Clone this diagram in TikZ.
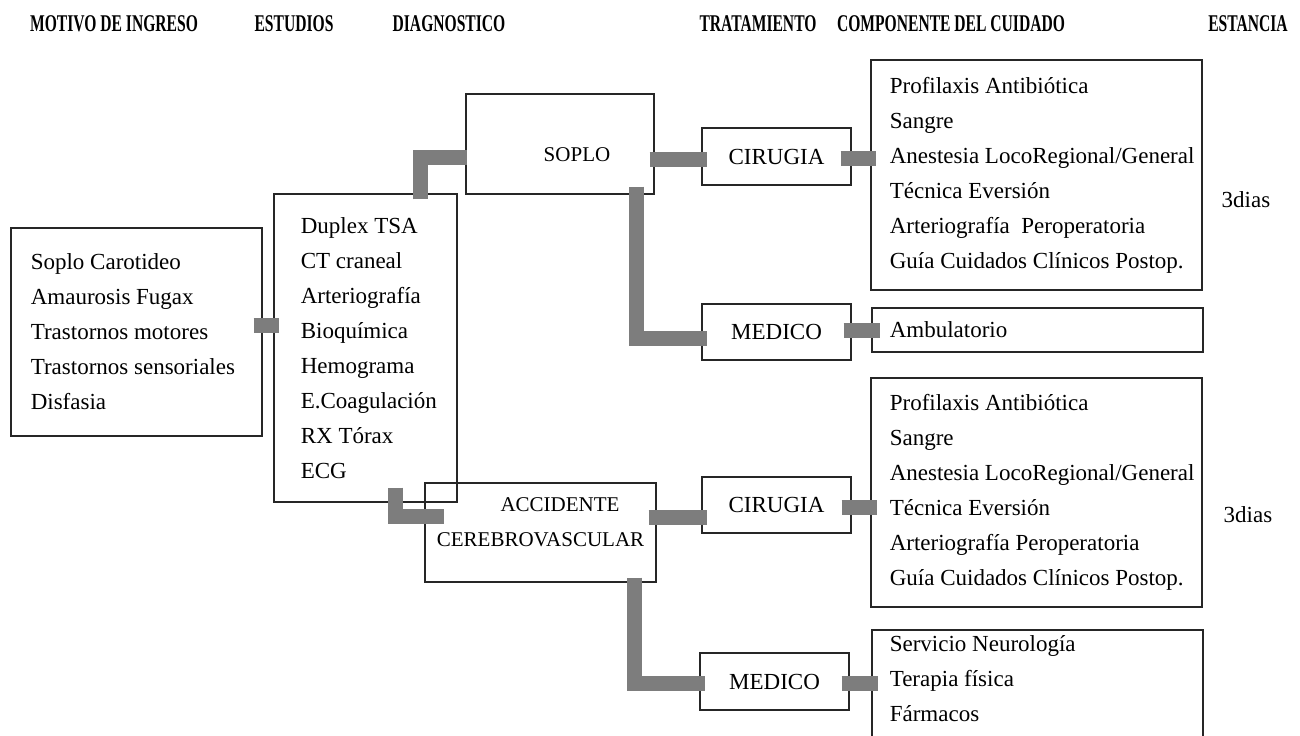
\documentclass[tikz,border=0pt]{standalone}
\usepackage{fontspec}
\setmainfont{Liberation Serif}
\newfontfamily\titlefont{Liberation Serif}[FakeStretch=0.65]
\usetikzlibrary{calc, positioning}
\definecolor{barra}{RGB}{125,125,125}

\begin{document}
\begin{tikzpicture}[x=0.5pt, y=-0.5pt,
    every node/.style={font=\fontsize{11.5pt}{17.5pt}\selectfont},
    titulo/.style={font=\titlefont\bfseries\fontsize{12pt}{14pt}\selectfont, anchor=base, inner sep=0},
    caja/.style={draw=black!85, line width=0.6pt, inner sep=0, align=center},
    diag/.style={caja, font=\fontsize{10.5pt}{17.5pt}\selectfont},
    lista/.style={inner sep=0, align=left},
    enlace/.style={draw=barra, line width=7.5pt, line cap=butt, line join=miter}]
    \useasboundingbox (0,0) rectangle (1300,735);

    %define the column headers
    \node[titulo] (h-motivo) at (114,31) {MOTIVO DE INGRESO};
    \node[titulo] (h-estudios) at (294,31) {ESTUDIOS};
    \node[titulo] (h-diag) at (449,31) {DIAGNOSTICO};
    \node[titulo] (h-trat) at (758,31) {TRATAMIENTO};
    \node[titulo] (h-comp) at (951,31) {COMPONENTE DEL CUIDADO};
    \node[titulo] (h-estancia) at (1248,31) {ESTANCIA};

    %define the boxes
    \node[caja, minimum width=125.5pt, minimum height=104pt] (motivo) at (136.5,332) {};
    \node[lista, right=10pt of motivo.west] (motivo-txt) {Soplo Carotideo\\Amaurosis Fugax\\Trastornos motores\\Trastornos sensoriales\\Disfasia};
    \node[caja, minimum width=91.5pt, minimum height=154pt] (estudios) at (365.5,348) {};
    \node[lista, right=13.5pt of estudios.west] (estudios-txt) {Duplex TSA\\CT craneal\\Arteriografía\\Bioquímica\\Hemograma\\E.Coagulación\\RX Tórax\\ECG};
    \node[diag, minimum width=94pt, minimum height=50pt, text height=18pt] (soplo) at (560,144) {\hspace*{17pt}SOPLO};
    \node[diag, minimum width=115.5pt, minimum height=49.5pt] (acc) at (540.5,532.5) {\hspace*{19.5pt}ACCIDENTE\\CEREBROVASCULAR\rule[-10pt]{0pt}{10pt}};
    \node[caja, minimum width=74.5pt, minimum height=28.5pt] (cir1) at (776.5,156.5) {CIRUGIA};
    \node[caja, minimum width=74.5pt, minimum height=28pt] (med1) at (776.5,332) {MEDICO};
    \node[caja, minimum width=74.5pt, minimum height=28pt] (cir2) at (776.5,505) {CIRUGIA};
    \node[caja, minimum width=74.5pt, minimum height=28.5pt] (med2) at (774.5,681.5) {MEDICO};
    \node[caja, minimum width=165.5pt, minimum height=115pt] (comp1) at (1036.5,175) {};
    \node[lista, right=9.5pt of comp1.west] (comp1-txt) {Profilaxis Antibiótica\\Sangre\\Anestesia LocoRegional/General\\Técnica Eversión\\Arteriografía~~Peroperatoria\\Guía Cuidados Clínicos Postop.};
    \node[caja, minimum width=165.5pt, minimum height=22pt] (amb) at (1037.5,330) {};
    \node[lista, right=9pt of amb.west] (amb-txt) {Ambulatorio};
    \node[caja, minimum width=165.5pt, minimum height=114.5pt] (comp2) at (1036.5,492.5) {};
    \node[lista, right=9.5pt of comp2.west] (comp2-txt) {Profilaxis Antibiótica\\Sangre\\Anestesia LocoRegional/General\\Técnica Eversión\\Arteriografía Peroperatoria\\Guía Cuidados Clínicos Postop.};
    \node[caja, minimum width=165.5pt, minimum height=70pt] (comp3) at (1037.5,700) {};
    \node[lista, anchor=north west] (comp3-txt) at ($(comp3.north west)+(18,6)$) {Servicio Neurología\\Terapia física\\Fármacos};
    \node[anchor=base] (dias1) at (1246,207) {3dias};
    \node[anchor=base] (dias2) at (1248,522) {3dias};

    %define the links
    \draw[enlace] ($(motivo.east |- 0,325.5)+(-9,0)$) -- ($(estudios.west |- 0,325.5)+(6,0)$);
    \draw[enlace] ($(estudios.north -| 420,0)+(0,6)$) |- ($(soplo.west |- 0,157.5)+(2,0)$);
    \draw[enlace] ($(estudios.south -| 395.5,0)+(0,-15)$) |- ($(acc.west |- 0,516.5)+(20,0)$);
    \draw[enlace] ($(soplo.east |- 0,159.5)+(-5,0)$) -- ($(cir1.west |- 0,159.5)+(6,0)$);
    \draw[enlace] ($(soplo.south -| 636.5,0)+(0,-8)$) |- ($(med1.west |- 0,338.5)+(6,0)$);
    \draw[enlace] ($(acc.east |- 0,517.5)+(-8,0)$) -- ($(cir2.west |- 0,517.5)+(6,0)$);
    \draw[enlace] ($(acc.south -| 634.5,0)+(0,-5)$) |- ($(med2.west |- 0,683)+(6,0)$);
    \draw[enlace] ($(cir1.east |- 0,158.5)+(-11,0)$) -- ($(comp1.west |- 0,158.5)+(6,0)$);
    \draw[enlace] ($(med1.east |- 0,330.5)+(-8,0)$) -- ($(amb.west |- 0,330.5)+(9,0)$);
    \draw[enlace] ($(cir2.east |- 0,507)+(-10,0)$) -- ($(comp2.west |- 0,507)+(7,0)$);
    \draw[enlace] ($(med2.east |- 0,683)+(-8,0)$) -- ($(comp3.west |- 0,683)+(7,0)$);
\end{tikzpicture}
\end{document}
